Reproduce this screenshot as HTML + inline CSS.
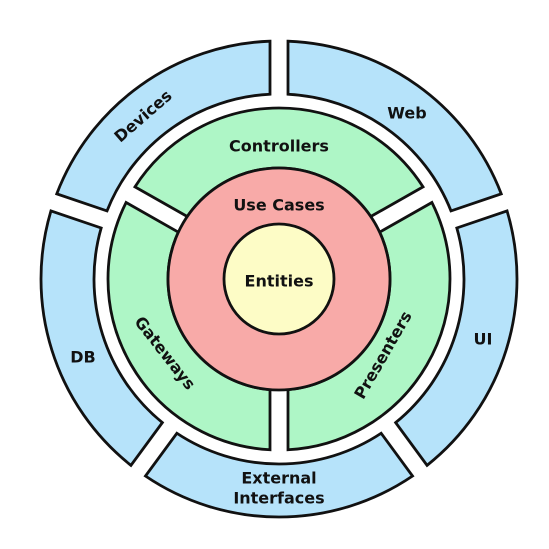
<!DOCTYPE html>
<html><head><meta charset="utf-8"><style>
html,body{margin:0;padding:0;background:#fff;}
svg{display:block;}
text{font-family:"DejaVu Sans","Liberation Sans",sans-serif;font-weight:bold;font-size:16px;fill:#111;text-anchor:middle;dominant-baseline:central;}
</style></head><body>
<svg id="s" width="549" height="549" viewBox="0 0 549 549" xmlns="http://www.w3.org/2000/svg">
<g id="segs"></g>
<circle cx="279" cy="279" r="111" fill="#f8aaa8" stroke="#111" stroke-width="2.8"/>
<circle cx="279" cy="279" r="55" fill="#fdfcc6" stroke="#111" stroke-width="2.8"/>
<text x="279" y="281">Entities</text>
<text x="279" y="205">Use Cases</text>
<text x="279" y="146">Controllers</text>
<text x="407" y="113">Web</text>
<text x="83" y="357">DB</text>
<text x="483" y="339">UI</text>
<text x="279" y="478">External</text>
<text x="279" y="498">Interfaces</text>
<text transform="translate(143,116) rotate(-41)">Devices</text>
<text transform="translate(165,353) rotate(52)">Gateways</text>
<text transform="translate(383,355) rotate(-60)">Presenters</text>
</svg>
<script>
(function(){
var cx=279,cy=279,h=9,g=document.getElementById('segs'),ns='http://www.w3.org/2000/svg';
function rad(a){return a*Math.PI/180;}
function pt(r,ang,side){var a=rad(ang),dx=Math.cos(a),dy=Math.sin(a),nx,ny;
 if(side==0){nx=-dy;ny=dx;}else{nx=dy;ny=-dx;}
 var t=Math.sqrt(r*r-h*h);return [cx+h*nx+t*dx,cy+h*ny+t*dy];}
function seg(r1,r2,a,b,fill){
 var o1=pt(r2,a,0),o2=pt(r2,b,1),i2=pt(r1,b,1),i1=pt(r1,a,0);
 var large=(b-a)>180?1:0;
 var d='M'+o1+' A'+r2+','+r2+' 0 '+large+' 1 '+o2+' L'+i2+' A'+r1+','+r1+' 0 '+large+' 0 '+i1+' Z';
 var p=document.createElementNS(ns,'path');p.setAttribute('d',d);p.setAttribute('fill',fill);
 p.setAttribute('stroke','#111');p.setAttribute('stroke-width','2.8');p.setAttribute('stroke-linejoin','miter');g.appendChild(p);}
var B='#b6e3fa',G='#aef6c6';
seg(185,238,-90,-18.8,B);
seg(185,238,-18.8,53.7,B);
seg(185,238,53.7,126.3,B);
seg(185,238,126.3,198.8,B);
seg(185,238,198.8,270,B);
seg(111,171,209.6,330.4,G);
seg(111,171,-29.6,90,G);
seg(111,171,90,209.6,G);
})();
</script>
</body></html>
